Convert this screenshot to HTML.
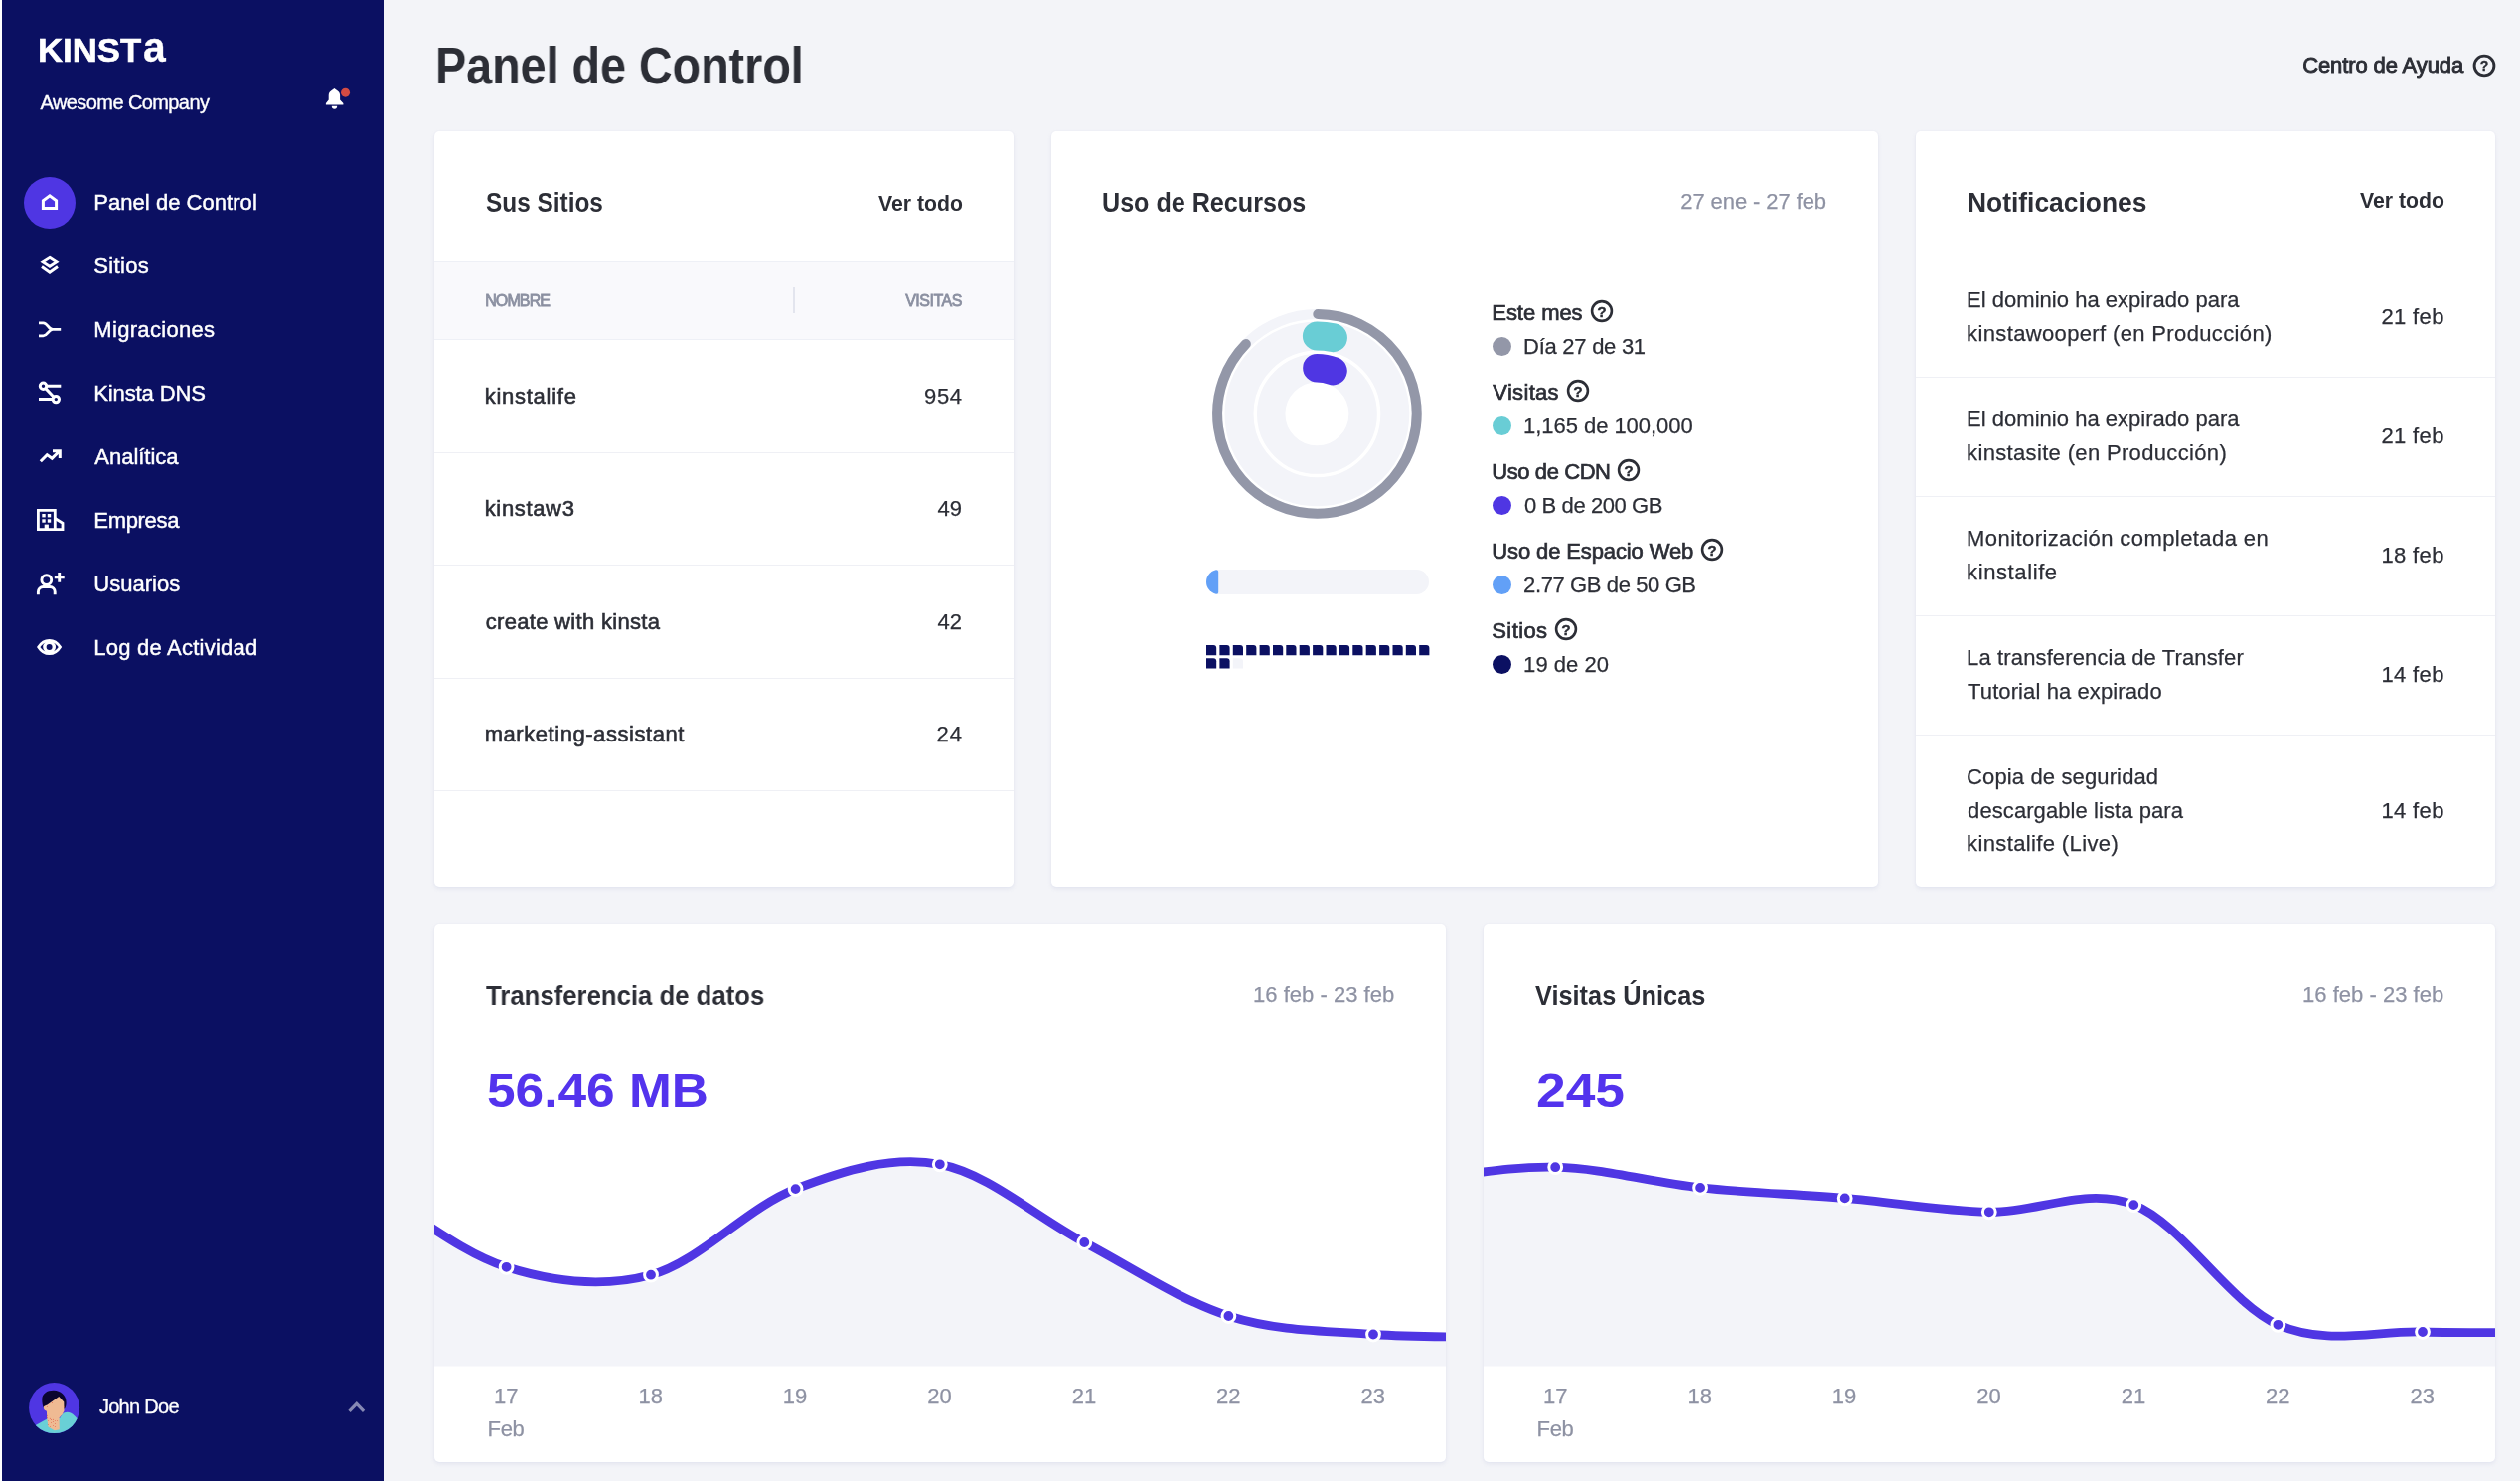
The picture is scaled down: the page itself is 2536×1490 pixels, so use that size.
<!DOCTYPE html>
<html lang="es">
<head>
<meta charset="utf-8">
<title>Panel de Control - MyKinsta</title>
<style>
*{box-sizing:border-box}
html,body{margin:0;padding:0}
body{width:2536px;height:1490px;overflow:hidden;position:relative;background:#f3f4f8;font-family:"Liberation Sans", sans-serif;color:#2c2e36}
#app{position:absolute;left:0;top:0;width:2536px;height:1490px;will-change:transform}
.a,.t,.card{position:absolute}
.t{transform-origin:0 0;white-space:pre;margin:0;font-weight:400;text-decoration:none;font-style:normal;display:block}
.sb{position:absolute;left:2px;top:0;width:384px;height:1490px;background:#0b1062}
.act{width:52px;height:52px;border-radius:50%;background:#4f36e3}
.card{background:#fff;border-radius:5px;box-shadow:0 2px 4px rgba(160,168,205,.18),0 0 2px rgba(160,168,205,.10)}
.thead{background:#f9f9fc;border-top:1px solid #eef0f6;border-bottom:1px solid #eef0f6}
.sep{height:1px;background:#eff0f5}
.dot{width:19px;height:19px;border-radius:50%}
svg{display:block;overflow:visible}
</style>
</head>
<body>
<div id="app">
<aside><div class="a" style="left:0;top:0;width:2px;height:1490px;background:#fff"></div><div class="sb"></div>
<div class="logo"><span class="t" style="left:37.9px;top:33.75px;font-size:33.5px;line-height:33.5px;color:#fff;font-weight:700;-webkit-text-stroke:0.6px #fff;transform:scaleX(1.0360);text-transform:uppercase;">Kinst</span><span class="t" style="left:144.4px;top:26.70px;font-size:41.6px;line-height:41.6px;color:#fff;font-weight:700;-webkit-text-stroke:0.3px #fff;transform:scaleX(0.9826);">a</span></div>
<div class="t" style="left:40.6px;top:93.00px;font-size:20px;line-height:20px;letter-spacing:-0.59px;color:#fff;-webkit-text-stroke:0.35px #fff;">Awesome Company</div>
<svg class="a" style="left:324px;top:84px" width="32" height="32" viewBox="324 84 32 32">
<path d="M336.400 88.900L333.700 91C331.800 92 330.700 93.800 330.700 96V100.600L327.900 104V105.400H345.400V104L342.100 100.600V96C342.100 93.800 341 92 339.100 91Z" fill="#fff"/>
<path d="M333.800 106.700H339.200A2.700 3 0 0 1 333.800 106.700Z" fill="#fff"/>
<circle cx="347.550" cy="93.150" r="4.500" fill="#d44b43"/></svg>
<nav>
<div class="a act" style="left:24px;top:177.800px"></div>
<a class="t" style="left:94.3px;top:192.50px;font-size:22px;line-height:22px;letter-spacing:0.04px;color:#fff;-webkit-text-stroke:0.45px #fff;">Panel de Control</a>
<a class="t" style="left:94.3px;top:256.50px;font-size:22px;line-height:22px;letter-spacing:0.33px;color:#fff;-webkit-text-stroke:0.45px #fff;">Sitios</a>
<a class="t" style="left:94.3px;top:320.50px;font-size:22px;line-height:22px;letter-spacing:0.32px;color:#fff;-webkit-text-stroke:0.45px #fff;">Migraciones</a>
<a class="t" style="left:94.3px;top:384.50px;font-size:22px;line-height:22px;letter-spacing:-0.12px;color:#fff;-webkit-text-stroke:0.45px #fff;">Kinsta DNS</a>
<a class="t" style="left:95.3px;top:448.50px;font-size:22px;line-height:22px;letter-spacing:-0.02px;color:#fff;-webkit-text-stroke:0.45px #fff;">Analítica</a>
<a class="t" style="left:94.3px;top:512.50px;font-size:22px;line-height:22px;letter-spacing:-0.31px;color:#fff;-webkit-text-stroke:0.45px #fff;">Empresa</a>
<a class="t" style="left:94.3px;top:576.50px;font-size:22px;line-height:22px;letter-spacing:0.02px;color:#fff;-webkit-text-stroke:0.45px #fff;">Usuarios</a>
<a class="t" style="left:94.3px;top:640.50px;font-size:22px;line-height:22px;letter-spacing:0.23px;color:#fff;-webkit-text-stroke:0.45px #fff;">Log de Actividad</a>
<svg class="a" style="left:0;top:0" width="386" height="700" viewBox="0 0 386 700" fill="none" stroke="#fff" stroke-width="3">
<path d="M43.400 209.400V201.800L50 196.800L56.600 201.800V209.400Z" stroke-linejoin="miter"/>
<path d="M50 259.300L57 263.800L50 268.300L43 263.800Z" stroke-width="2.800"/>
<path d="M42 268.600L50 274.200L58 268.600" stroke-width="3"/>
<path d="M39 324.800H43.500C48 324.800 48.500 331.400 53 331.400H61.200M39 337.800H43.500C48 337.800 48.500 331.400 53 331.400" stroke-width="2.800"/>
<g stroke-width="3"><circle cx="43.500" cy="388.200" r="3.200"/><circle cx="56.300" cy="401.600" r="3.200"/><path d="M46.800 388.200H61.300M39 401.600H53M45.800 390.600L54 399.200"/></g>
<path d="M40.800 464.200L47.300 457.600L52.300 461.200L59.700 454M53 453.700H60.300V461" stroke-width="3"/>
<g stroke-width="2.800"><path d="M38.400 513.300H55.300V532.600H38.400Z"/><path d="M55.300 521.500L63 526.300V532.600H55.300"/></g>
<g fill="#fff" stroke="none"><rect x="42.300" y="517" width="3.400" height="3.400"/><rect x="47.800" y="517" width="3.400" height="3.400"/><rect x="42.300" y="522.300" width="3.400" height="3.400"/><rect x="47.800" y="522.300" width="3.400" height="3.400"/><rect x="44.700" y="527.600" width="4.200" height="5"/></g>
<g stroke-width="2.900"><circle cx="46.800" cy="583.600" r="4.900"/><path d="M38.400 598.200V595.500A5 5 0 0 1 43.400 590.500H50.200A5 5 0 0 1 55.200 595.500V598.200"/><path d="M59.700 576V585.800M54.800 580.900H64.700"/></g>
<path d="M38.700 651C41.500 646.500 45.500 644.300 49.600 644.300S57.700 646.500 60.500 651C57.700 655.500 53.700 657.700 49.600 657.700S41.500 655.500 38.700 651Z" stroke-width="2.800"/>
<circle cx="49.600" cy="651" r="6.400" fill="#fff" stroke="none"/><circle cx="49.600" cy="651" r="3" fill="#0b1062" stroke="none"/>
</svg>
</nav>
<svg class="a" style="left:24px;top:1386px" width="60" height="60" viewBox="0 0 60 60">
<defs><clipPath id="av"><circle cx="30.600" cy="30.600" r="25.500"/></clipPath></defs>
<circle cx="30.600" cy="30.600" r="25.500" fill="#4f36e3"/>
<g clip-path="url(#av)">
<path d="M8 50L23 41.800L36 41L38.500 37C40.500 34.800 44 34.300 47 35.500C50 37 52.500 39.500 56 44V60H8Z" fill="#69d0d6"/>
<path d="M18.300 22C18.300 16 23.500 12.700 30 12.800C37 12.900 42.600 18 42.600 25C42.600 28 42 30 41 31.500L20 30.800C18.800 28.500 18.300 25 18.300 22Z" fill="#0a0530"/>
<path d="M35.300 19L40.300 24.500L40.500 33.500L38.700 37L35.600 40.600L35.800 52.300L30.800 53.200L24.500 49.400L23.100 40.500L23 34.500L22.300 33.300C20.500 33.300 19.600 31.500 19.900 29.600C20.200 28.600 21.500 28.400 23.500 27.500Z" fill="#efba93"/>
<g fill="#dc3b2c"><circle cx="24.3" cy="43.6" r=".45"/><circle cx="26.3" cy="41.3" r=".45"/><circle cx="27.6" cy="42.5" r=".45"/><circle cx="29.4" cy="42.3" r=".45"/><circle cx="31.4" cy="43.6" r=".45"/><circle cx="33.4" cy="43.6" r=".45"/><circle cx="29.4" cy="44.4" r=".45"/><circle cx="27.4" cy="45.4" r=".45"/><circle cx="31.4" cy="46.4" r=".45"/><circle cx="24.3" cy="47.4" r=".45"/><circle cx="29.4" cy="48.4" r=".45"/><circle cx="26.3" cy="49.4" r=".45"/><circle cx="31.4" cy="49.4" r=".45"/><circle cx="23.5" cy="38.3" r=".45"/><circle cx="23.5" cy="40.3" r=".45"/><circle cx="28.4" cy="25.5" r=".45"/><circle cx="23.5" cy="29.4" r=".45"/><circle cx="40.5" cy="29.6" r=".45"/></g>
</g></svg>
<div class="t" style="left:99.9px;top:1405.00px;font-size:20px;line-height:20px;letter-spacing:-0.71px;color:#fff;-webkit-text-stroke:0.3px #fff;">John Doe</div>
<svg class="a" style="left:346px;top:1404px" width="26" height="22" viewBox="0 0 26 22"><path d="M5.500 15.800L12.800 8.300L20.100 15.800" fill="none" stroke="#8689b4" stroke-width="3.200"/></svg>
</aside>
<main>
<header>
<h1 class="t" style="left:438.4px;top:41.00px;font-size:51px;line-height:51px;font-weight:700;transform:scaleX(0.9149);">Panel de Control</h1>
<a class="t" style="left:2317.2px;top:54.50px;font-size:22px;line-height:22px;letter-spacing:-0.11px;-webkit-text-stroke:0.9px #2c2e36;">Centro de Ayuda</a>
<svg class="a" style="left:2486.6px;top:53.0px" width="26" height="26" viewBox="0 0 26 26"><circle cx="13" cy="13" r="9.9" fill="none" stroke="#2c2e36" stroke-width="2.9"/><text x="13" y="18.1" text-anchor="middle" font-family="Liberation Sans, sans-serif" font-weight="700" font-size="14" fill="#2c2e36" stroke="#2c2e36" stroke-width=".35">?</text></svg>
</header>
<section><div class="card" style="left:437px;top:132px;width:583px;height:760px"></div>
<h2 class="t" style="left:488.8px;top:189.50px;font-size:28px;line-height:28px;font-weight:700;transform:scaleX(0.8710);">Sus Sitios</h2>
<a class="t" style="left:883.8px;top:194.25px;font-size:22.5px;line-height:22.5px;font-weight:700;transform:scaleX(0.9432);">Ver todo</a>
<div class="a thead" style="left:437px;top:263px;width:583px;height:79px"></div>
<div class="a" style="left:798px;top:289px;width:2px;height:26px;background:#e3e5ee"></div>
<span class="t" style="left:488.2px;top:294.50px;font-size:16px;line-height:16px;letter-spacing:-0.89px;color:#8b90a1;-webkit-text-stroke:0.8px #8b90a1;">NOMBRE</span>
<span class="t" style="left:911.2px;top:294.50px;font-size:16px;line-height:16px;letter-spacing:-0.50px;color:#8b90a1;-webkit-text-stroke:0.8px #8b90a1;">VISITAS</span>
<span class="t" style="left:487.7px;top:387.50px;font-size:22px;line-height:22px;letter-spacing:0.74px;-webkit-text-stroke:0.6px #2c2e36;">kinstalife</span>
<span class="t" style="left:930.1px;top:387.50px;font-size:22px;line-height:22px;letter-spacing:0.64px;-webkit-text-stroke:0.25px #2c2e36;">954</span>
<div class="a sep" style="left:437px;top:454.6px;width:583px"></div>
<span class="t" style="left:487.7px;top:500.50px;font-size:22px;line-height:22px;letter-spacing:0.66px;-webkit-text-stroke:0.6px #2c2e36;">kinstaw3</span>
<span class="t" style="left:943.6px;top:500.50px;font-size:22px;line-height:22px;letter-spacing:0.01px;-webkit-text-stroke:0.25px #2c2e36;">49</span>
<div class="a sep" style="left:437px;top:568.1px;width:583px"></div>
<span class="t" style="left:488.7px;top:614.50px;font-size:22px;line-height:22px;letter-spacing:0.31px;-webkit-text-stroke:0.6px #2c2e36;">create with kinsta</span>
<span class="t" style="left:943.6px;top:614.50px;font-size:22px;line-height:22px;letter-spacing:0.01px;-webkit-text-stroke:0.25px #2c2e36;">42</span>
<div class="a sep" style="left:437px;top:681.6px;width:583px"></div>
<span class="t" style="left:487.7px;top:727.50px;font-size:22px;line-height:22px;letter-spacing:0.55px;-webkit-text-stroke:0.6px #2c2e36;">marketing-assistant</span>
<span class="t" style="left:942.6px;top:727.50px;font-size:22px;line-height:22px;letter-spacing:1.01px;-webkit-text-stroke:0.25px #2c2e36;">24</span>
<div class="a sep" style="left:437px;top:795.1px;width:583px"></div>
</section>
<section><div class="card" style="left:1058px;top:132px;width:832px;height:760px"></div>
<h2 class="t" style="left:1109.1px;top:189.50px;font-size:28px;line-height:28px;font-weight:700;transform:scaleX(0.8971);">Uso de Recursos</h2>
<span class="t" style="left:1691.3px;top:191.50px;font-size:22px;line-height:22px;letter-spacing:-0.09px;color:#8e92a3;-webkit-text-stroke:0.25px #8e92a3;">27 ene - 27 feb</span>
<svg class="a" style="left:1200px;top:300px" width="250" height="390" viewBox="1200 300 250 390"><circle cx="1325.4" cy="416.4" r="100.300" fill="none" stroke="#f3f4f9" stroke-width="10"/><circle cx="1325.4" cy="416.4" r="78.400" fill="none" stroke="#f3f4f9" stroke-width="29"/><circle cx="1325.4" cy="416.4" r="46.200" fill="none" stroke="#f3f4f9" stroke-width="28.500"/><path d="M1326.28 316.10A100.3 100.3 0 1 1 1253.86 346.10" fill="none" stroke="#9397a8" stroke-width="10" stroke-linecap="round"/><path d="M1325.40 338.00A78.4 78.4 0 0 1 1341.43 339.66" fill="none" stroke="#69cdd5" stroke-width="29" stroke-linecap="round"/><path d="M1325.40 370.20A46.2 46.2 0 0 1 1341.50 373.10" fill="none" stroke="#4f36e3" stroke-width="28.500" stroke-linecap="round"/><defs><clipPath id="bar"><rect x="1214" y="573" width="224" height="25" rx="12.500"/></clipPath></defs><rect x="1214" y="573" width="224" height="25" rx="12.500" fill="#f3f4f9"/><rect x="1204" y="573" width="22.200" height="25" rx="2.500" fill="#62a0f7" clip-path="url(#bar)"/><path d="M1214.0 649.0h7.200a3 3 0 0 1 3 3v7.200h-10.200z" fill="#0b1062"/><path d="M1227.4 649.0h7.200a3 3 0 0 1 3 3v7.200h-10.200z" fill="#0b1062"/><path d="M1240.8 649.0h7.200a3 3 0 0 1 3 3v7.200h-10.200z" fill="#0b1062"/><path d="M1254.2 649.0h7.200a3 3 0 0 1 3 3v7.200h-10.200z" fill="#0b1062"/><path d="M1267.6 649.0h7.200a3 3 0 0 1 3 3v7.200h-10.200z" fill="#0b1062"/><path d="M1281.0 649.0h7.200a3 3 0 0 1 3 3v7.200h-10.200z" fill="#0b1062"/><path d="M1294.3 649.0h7.200a3 3 0 0 1 3 3v7.200h-10.200z" fill="#0b1062"/><path d="M1307.7 649.0h7.200a3 3 0 0 1 3 3v7.200h-10.200z" fill="#0b1062"/><path d="M1321.1 649.0h7.200a3 3 0 0 1 3 3v7.200h-10.200z" fill="#0b1062"/><path d="M1334.5 649.0h7.200a3 3 0 0 1 3 3v7.200h-10.200z" fill="#0b1062"/><path d="M1347.9 649.0h7.200a3 3 0 0 1 3 3v7.200h-10.200z" fill="#0b1062"/><path d="M1361.3 649.0h7.200a3 3 0 0 1 3 3v7.200h-10.200z" fill="#0b1062"/><path d="M1374.7 649.0h7.200a3 3 0 0 1 3 3v7.200h-10.200z" fill="#0b1062"/><path d="M1388.1 649.0h7.200a3 3 0 0 1 3 3v7.200h-10.200z" fill="#0b1062"/><path d="M1401.5 649.0h7.200a3 3 0 0 1 3 3v7.200h-10.200z" fill="#0b1062"/><path d="M1414.8 649.0h7.200a3 3 0 0 1 3 3v7.200h-10.200z" fill="#0b1062"/><path d="M1428.2 649.0h7.200a3 3 0 0 1 3 3v7.200h-10.200z" fill="#0b1062"/><path d="M1214.0 662.2h7.200a3 3 0 0 1 3 3v7.200h-10.200z" fill="#0b1062"/><path d="M1227.4 662.2h7.200a3 3 0 0 1 3 3v7.200h-10.200z" fill="#0b1062"/><path d="M1240.8 662.2h7.200a3 3 0 0 1 3 3v7.200h-10.200z" fill="#f3f4f9"/></svg>
<h3 class="t" style="left:1501.3px;top:303.50px;font-size:22px;line-height:22px;letter-spacing:-0.06px;-webkit-text-stroke:0.7px #2c2e36;">Este mes</h3>
<svg class="a" style="left:1598.7px;top:300.4px" width="26" height="26" viewBox="0 0 26 26"><circle cx="13" cy="13" r="9.9" fill="none" stroke="#2c2e36" stroke-width="2.6"/><text x="13" y="18.7" text-anchor="middle" font-family="Liberation Sans, sans-serif" font-weight="700" font-size="15.5" fill="#2c2e36" stroke="#2c2e36" stroke-width=".35">?</text></svg>
<i class="a dot" style="left:1502px;top:338.5px;background:#9397a8"></i>
<span class="t" style="left:1533.1px;top:337.50px;font-size:22px;line-height:22px;letter-spacing:-0.27px;-webkit-text-stroke:0.25px #2c2e36;">Día 27 de 31</span>
<h3 class="t" style="left:1502.3px;top:383.50px;font-size:22px;line-height:22px;letter-spacing:0.32px;-webkit-text-stroke:0.7px #2c2e36;">Visitas</h3>
<svg class="a" style="left:1574.7px;top:380.4px" width="26" height="26" viewBox="0 0 26 26"><circle cx="13" cy="13" r="9.9" fill="none" stroke="#2c2e36" stroke-width="2.6"/><text x="13" y="18.7" text-anchor="middle" font-family="Liberation Sans, sans-serif" font-weight="700" font-size="15.5" fill="#2c2e36" stroke="#2c2e36" stroke-width=".35">?</text></svg>
<i class="a dot" style="left:1502px;top:418.5px;background:#69cdd5"></i>
<span class="t" style="left:1533.1px;top:417.50px;font-size:22px;line-height:22px;letter-spacing:-0.05px;-webkit-text-stroke:0.25px #2c2e36;">1,165 de 100,000</span>
<h3 class="t" style="left:1501.3px;top:463.50px;font-size:22px;line-height:22px;letter-spacing:-0.42px;-webkit-text-stroke:0.7px #2c2e36;">Uso de CDN</h3>
<svg class="a" style="left:1626.2px;top:460.4px" width="26" height="26" viewBox="0 0 26 26"><circle cx="13" cy="13" r="9.9" fill="none" stroke="#2c2e36" stroke-width="2.6"/><text x="13" y="18.7" text-anchor="middle" font-family="Liberation Sans, sans-serif" font-weight="700" font-size="15.5" fill="#2c2e36" stroke="#2c2e36" stroke-width=".35">?</text></svg>
<i class="a dot" style="left:1502px;top:498.5px;background:#4f36e3"></i>
<span class="t" style="left:1534.1px;top:497.50px;font-size:22px;line-height:22px;letter-spacing:-0.41px;-webkit-text-stroke:0.25px #2c2e36;">0 B de 200 GB</span>
<h3 class="t" style="left:1501.3px;top:543.50px;font-size:22px;line-height:22px;letter-spacing:-0.12px;-webkit-text-stroke:0.7px #2c2e36;">Uso de Espacio Web</h3>
<svg class="a" style="left:1710.2px;top:540.4px" width="26" height="26" viewBox="0 0 26 26"><circle cx="13" cy="13" r="9.9" fill="none" stroke="#2c2e36" stroke-width="2.6"/><text x="13" y="18.7" text-anchor="middle" font-family="Liberation Sans, sans-serif" font-weight="700" font-size="15.5" fill="#2c2e36" stroke="#2c2e36" stroke-width=".35">?</text></svg>
<i class="a dot" style="left:1502px;top:578.5px;background:#62a0f7"></i>
<span class="t" style="left:1533.1px;top:577.50px;font-size:22px;line-height:22px;letter-spacing:-0.39px;-webkit-text-stroke:0.25px #2c2e36;">2.77 GB de 50 GB</span>
<h3 class="t" style="left:1501.3px;top:623.50px;font-size:22px;line-height:22px;letter-spacing:0.40px;-webkit-text-stroke:0.7px #2c2e36;">Sitios</h3>
<svg class="a" style="left:1563.2px;top:620.4px" width="26" height="26" viewBox="0 0 26 26"><circle cx="13" cy="13" r="9.9" fill="none" stroke="#2c2e36" stroke-width="2.6"/><text x="13" y="18.7" text-anchor="middle" font-family="Liberation Sans, sans-serif" font-weight="700" font-size="15.5" fill="#2c2e36" stroke="#2c2e36" stroke-width=".35">?</text></svg>
<i class="a dot" style="left:1502px;top:658.5px;background:#0b1062"></i>
<span class="t" style="left:1533.1px;top:657.50px;font-size:22px;line-height:22px;letter-spacing:0.05px;-webkit-text-stroke:0.25px #2c2e36;">19 de 20</span>
</section>
<section><div class="card" style="left:1928px;top:132px;width:583px;height:760px"></div>
<h2 class="t" style="left:1979.5px;top:189.50px;font-size:28px;line-height:28px;font-weight:700;transform:scaleX(0.9425);">Notificaciones</h2>
<a class="t" style="left:2375.0px;top:191.25px;font-size:22.5px;line-height:22.5px;font-weight:700;transform:scaleX(0.9455);">Ver todo</a>
<p class="t" style="left:1979.1px;top:290.50px;font-size:22px;line-height:22px;letter-spacing:0.02px;-webkit-text-stroke:0.25px #2c2e36;">El dominio ha expirado para</p>
<p class="t" style="left:1979.1px;top:324.50px;font-size:22px;line-height:22px;letter-spacing:0.36px;-webkit-text-stroke:0.25px #2c2e36;">kinstawooperf (en Producción)</p>
<span class="t" style="left:2396.4px;top:307.50px;font-size:22px;line-height:22px;letter-spacing:0.38px;-webkit-text-stroke:0.25px #2c2e36;">21 feb</span>
<p class="t" style="left:1979.1px;top:410.50px;font-size:22px;line-height:22px;letter-spacing:0.02px;-webkit-text-stroke:0.25px #2c2e36;">El dominio ha expirado para</p>
<p class="t" style="left:1979.1px;top:444.50px;font-size:22px;line-height:22px;letter-spacing:0.34px;-webkit-text-stroke:0.25px #2c2e36;">kinstasite (en Producción)</p>
<span class="t" style="left:2396.4px;top:427.50px;font-size:22px;line-height:22px;letter-spacing:0.38px;-webkit-text-stroke:0.25px #2c2e36;">21 feb</span>
<div class="a sep" style="left:1928px;top:379.1px;width:583px"></div>
<p class="t" style="left:1979.1px;top:530.50px;font-size:22px;line-height:22px;letter-spacing:0.42px;-webkit-text-stroke:0.25px #2c2e36;">Monitorización completada en</p>
<p class="t" style="left:1979.1px;top:564.50px;font-size:22px;line-height:22px;letter-spacing:0.60px;-webkit-text-stroke:0.25px #2c2e36;">kinstalife</p>
<span class="t" style="left:2396.4px;top:547.50px;font-size:22px;line-height:22px;letter-spacing:0.38px;-webkit-text-stroke:0.25px #2c2e36;">18 feb</span>
<div class="a sep" style="left:1928px;top:499.1px;width:583px"></div>
<p class="t" style="left:1979.1px;top:650.50px;font-size:22px;line-height:22px;letter-spacing:0.13px;-webkit-text-stroke:0.25px #2c2e36;">La transferencia de Transfer</p>
<p class="t" style="left:1980.1px;top:684.50px;font-size:22px;line-height:22px;letter-spacing:0.10px;-webkit-text-stroke:0.25px #2c2e36;">Tutorial ha expirado</p>
<span class="t" style="left:2396.4px;top:667.50px;font-size:22px;line-height:22px;letter-spacing:0.38px;-webkit-text-stroke:0.25px #2c2e36;">14 feb</span>
<div class="a sep" style="left:1928px;top:619.1px;width:583px"></div>
<p class="t" style="left:1979.1px;top:770.50px;font-size:22px;line-height:22px;letter-spacing:0.13px;-webkit-text-stroke:0.25px #2c2e36;">Copia de seguridad</p>
<p class="t" style="left:1980.1px;top:804.50px;font-size:22px;line-height:22px;letter-spacing:0.08px;-webkit-text-stroke:0.25px #2c2e36;">descargable lista para</p>
<p class="t" style="left:1979.1px;top:837.50px;font-size:22px;line-height:22px;letter-spacing:0.37px;-webkit-text-stroke:0.25px #2c2e36;">kinstalife (Live)</p>
<span class="t" style="left:2396.4px;top:804.50px;font-size:22px;line-height:22px;letter-spacing:0.38px;-webkit-text-stroke:0.25px #2c2e36;">14 feb</span>
<div class="a sep" style="left:1928px;top:739.1px;width:583px"></div>
</section>
<section><div class="card" style="left:437px;top:930px;width:1018px;height:541px"></div>
<h2 class="t" style="left:489.4px;top:987.50px;font-size:28px;line-height:28px;font-weight:700;transform:scaleX(0.9188);">Transferencia de datos</h2>
<span class="t" style="left:1261.1px;top:989.50px;font-size:22px;line-height:22px;letter-spacing:0.01px;color:#8e92a3;-webkit-text-stroke:0.25px #8e92a3;">16 feb - 23 feb</span>
<strong class="t" style="left:490.4px;top:1073.50px;font-size:48px;line-height:48px;color:#5333ed;font-weight:700;transform:scaleX(1.0709);">56.46 MB</strong>
<svg class="a" style="left:437px;top:1100px;overflow:hidden" width="1018" height="290" viewBox="437 1100 1018 290"><path d="M363.8 1191.0C412.3 1216.8 461.1 1259.5 509.6 1274.8C558.1 1290.1 606.5 1295.8 655.0 1282.7C703.5 1269.6 752.1 1214.7 800.6 1196.1C849.1 1177.5 897.3 1162.3 945.8 1171.3C994.2 1180.3 1042.9 1224.5 1091.3 1250.0C1139.7 1275.5 1188.0 1308.6 1236.4 1324.0C1284.9 1339.4 1333.5 1339.0 1382.0 1342.5C1430.5 1346.0 1478.9 1344.6 1527.4 1345.0L1527.4 1374.600L363.8 1374.600Z" fill="#f3f4f9"/><path d="M363.8 1191.0C412.3 1216.8 461.1 1259.5 509.6 1274.8C558.1 1290.1 606.5 1295.8 655.0 1282.7C703.5 1269.6 752.1 1214.7 800.6 1196.1C849.1 1177.5 897.3 1162.3 945.8 1171.3C994.2 1180.3 1042.9 1224.5 1091.3 1250.0C1139.7 1275.5 1188.0 1308.6 1236.4 1324.0C1284.9 1339.4 1333.5 1339.0 1382.0 1342.5C1430.5 1346.0 1478.9 1344.6 1527.4 1345.0" fill="none" stroke="#4f36e3" stroke-width="8.800"/><circle cx="509.6" cy="1274.8" r="6.400" fill="#4f36e3" stroke="#fff" stroke-width="3"/><circle cx="655.0" cy="1282.7" r="6.400" fill="#4f36e3" stroke="#fff" stroke-width="3"/><circle cx="800.6" cy="1196.1" r="6.400" fill="#4f36e3" stroke="#fff" stroke-width="3"/><circle cx="945.8" cy="1171.3" r="6.400" fill="#4f36e3" stroke="#fff" stroke-width="3"/><circle cx="1091.3" cy="1250.0" r="6.400" fill="#4f36e3" stroke="#fff" stroke-width="3"/><circle cx="1236.4" cy="1324.0" r="6.400" fill="#4f36e3" stroke="#fff" stroke-width="3"/><circle cx="1382.0" cy="1342.5" r="6.400" fill="#4f36e3" stroke="#fff" stroke-width="3"/></svg>
<span class="t" style="left:497.0px;top:1393.50px;font-size:22px;line-height:22px;color:#8e92a3;-webkit-text-stroke:0.25px #8e92a3;">17</span>
<span class="t" style="left:642.4px;top:1393.50px;font-size:22px;line-height:22px;color:#8e92a3;-webkit-text-stroke:0.25px #8e92a3;">18</span>
<span class="t" style="left:787.8px;top:1393.50px;font-size:22px;line-height:22px;color:#8e92a3;-webkit-text-stroke:0.25px #8e92a3;">19</span>
<span class="t" style="left:933.2px;top:1393.50px;font-size:22px;line-height:22px;color:#8e92a3;-webkit-text-stroke:0.25px #8e92a3;">20</span>
<span class="t" style="left:1078.7px;top:1393.50px;font-size:22px;line-height:22px;color:#8e92a3;-webkit-text-stroke:0.25px #8e92a3;">21</span>
<span class="t" style="left:1224.1px;top:1393.50px;font-size:22px;line-height:22px;color:#8e92a3;-webkit-text-stroke:0.25px #8e92a3;">22</span>
<span class="t" style="left:1369.5px;top:1393.50px;font-size:22px;line-height:22px;color:#8e92a3;-webkit-text-stroke:0.25px #8e92a3;">23</span>
<span class="t" style="left:490.6px;top:1426.50px;font-size:22px;line-height:22px;letter-spacing:-0.36px;color:#8e92a3;-webkit-text-stroke:0.25px #8e92a3;">Feb</span>
</section>
<section><div class="card" style="left:1493px;top:930px;width:1018px;height:541px"></div>
<h2 class="t" style="left:1545.4px;top:987.50px;font-size:28px;line-height:28px;font-weight:700;transform:scaleX(0.9047);">Visitas Únicas</h2>
<span class="t" style="left:2317.1px;top:989.50px;font-size:22px;line-height:22px;letter-spacing:0.01px;color:#8e92a3;-webkit-text-stroke:0.25px #8e92a3;">16 feb - 23 feb</span>
<strong class="t" style="left:1546.4px;top:1073.50px;font-size:48px;line-height:48px;color:#5333ed;font-weight:700;transform:scaleX(1.1111);">245</strong>
<svg class="a" style="left:1493px;top:1100px;overflow:hidden" width="1018" height="290" viewBox="1493 1100 1018 290"><path d="M1419.8 1188.0C1468.3 1183.7 1516.7 1173.0 1565.2 1174.2C1613.8 1175.4 1662.5 1189.7 1711.1 1194.9C1759.7 1200.1 1808.2 1201.3 1856.7 1205.4C1905.2 1209.5 1953.4 1218.2 2001.8 1219.3C2050.2 1220.4 2098.9 1193.2 2147.3 1212.1C2195.7 1231.0 2244.0 1311.5 2292.4 1332.8C2340.8 1354.1 2389.5 1338.7 2438.0 1340.0C2486.5 1341.3 2534.9 1340.4 2583.4 1340.5L2583.4 1374.600L1419.8 1374.600Z" fill="#f3f4f9"/><path d="M1419.8 1188.0C1468.3 1183.7 1516.7 1173.0 1565.2 1174.2C1613.8 1175.4 1662.5 1189.7 1711.1 1194.9C1759.7 1200.1 1808.2 1201.3 1856.7 1205.4C1905.2 1209.5 1953.4 1218.2 2001.8 1219.3C2050.2 1220.4 2098.9 1193.2 2147.3 1212.1C2195.7 1231.0 2244.0 1311.5 2292.4 1332.8C2340.8 1354.1 2389.5 1338.7 2438.0 1340.0C2486.5 1341.3 2534.9 1340.4 2583.4 1340.5" fill="none" stroke="#4f36e3" stroke-width="8.800"/><circle cx="1565.2" cy="1174.2" r="6.400" fill="#4f36e3" stroke="#fff" stroke-width="3"/><circle cx="1711.1" cy="1194.9" r="6.400" fill="#4f36e3" stroke="#fff" stroke-width="3"/><circle cx="1856.7" cy="1205.4" r="6.400" fill="#4f36e3" stroke="#fff" stroke-width="3"/><circle cx="2001.8" cy="1219.3" r="6.400" fill="#4f36e3" stroke="#fff" stroke-width="3"/><circle cx="2147.3" cy="1212.1" r="6.400" fill="#4f36e3" stroke="#fff" stroke-width="3"/><circle cx="2292.4" cy="1332.8" r="6.400" fill="#4f36e3" stroke="#fff" stroke-width="3"/><circle cx="2438.0" cy="1340.0" r="6.400" fill="#4f36e3" stroke="#fff" stroke-width="3"/></svg>
<span class="t" style="left:1553.0px;top:1393.50px;font-size:22px;line-height:22px;color:#8e92a3;-webkit-text-stroke:0.25px #8e92a3;">17</span>
<span class="t" style="left:1698.4px;top:1393.50px;font-size:22px;line-height:22px;color:#8e92a3;-webkit-text-stroke:0.25px #8e92a3;">18</span>
<span class="t" style="left:1843.8px;top:1393.50px;font-size:22px;line-height:22px;color:#8e92a3;-webkit-text-stroke:0.25px #8e92a3;">19</span>
<span class="t" style="left:1989.2px;top:1393.50px;font-size:22px;line-height:22px;color:#8e92a3;-webkit-text-stroke:0.25px #8e92a3;">20</span>
<span class="t" style="left:2134.7px;top:1393.50px;font-size:22px;line-height:22px;color:#8e92a3;-webkit-text-stroke:0.25px #8e92a3;">21</span>
<span class="t" style="left:2280.1px;top:1393.50px;font-size:22px;line-height:22px;color:#8e92a3;-webkit-text-stroke:0.25px #8e92a3;">22</span>
<span class="t" style="left:2425.5px;top:1393.50px;font-size:22px;line-height:22px;color:#8e92a3;-webkit-text-stroke:0.25px #8e92a3;">23</span>
<span class="t" style="left:1546.6px;top:1426.50px;font-size:22px;line-height:22px;letter-spacing:-0.36px;color:#8e92a3;-webkit-text-stroke:0.25px #8e92a3;">Feb</span>
</section>
</main>
</div>
</body>
</html>
